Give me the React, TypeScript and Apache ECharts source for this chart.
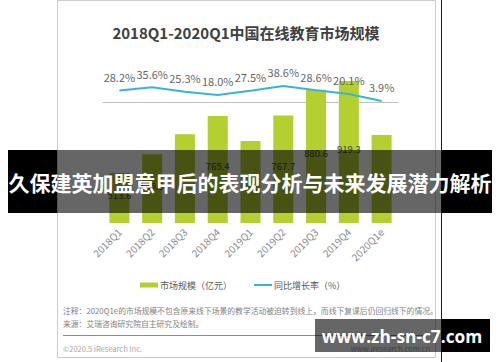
import React, { useEffect, useRef } from 'react';
import * as echarts from 'echarts';

const categories = ['2018Q1', '2018Q2', '2018Q3', '2018Q4', '2019Q1', '2019Q2', '2019Q3', '2019Q4', '2020Q1e'];
const marketSize = [513.6, 595.9, 685.0, 765.4, 655.0, 767.7, 880.6, 919.3, 681.0];
const sizeLabelShown = [true, true, false, true, false, true, true, true, false];
const growthRate = [28.2, 35.6, 25.3, 18.0, 27.5, 38.6, 28.6, 20.1, 3.9];
const seriesNames = ['市场规模（亿元）', '同比增长率（%）'];
const titleText = '2018Q1-2020Q1中国在线教育市场规模';
const noteLines = [
  '注释：2020Q1e的市场规模不包含原来线下场景的教学活动被迫转到线上，而线下复课后仍回归线下的情况。',
  '来源：艾瑞咨询研究院自主研究及绘制。',
];
const footerLeft = '©2020.5 iResearch Inc.';
const footerRight = 'www.iresearch.com.cn';
const bannerText = '久保建英加盟意甲后的表现分析与未来发展潜力解析';
const watermarkText = 'www.zh-sn-c7.com';

const FONT = '"Noto Sans CJK SC", "Noto Sans", sans-serif';
const GREEN = '#b4cf30';
const CYAN = '#36b5d8';

export default function App() {
  const ref = useRef<HTMLDivElement>(null);
  useEffect(() => {
    if (!ref.current) return;
    const chart = echarts.init(ref.current, null, { renderer: 'svg' });
    const option: any = {
      animation: false,
      backgroundColor: '#ffffff',
      textStyle: { fontFamily: FONT },
      grid: { left: 103, right: 102, top: 60, bottom: 139, containLabel: false },
      legend: {
        left: 140,
        top: 280.5,
        padding: 0,
        itemWidth: 18,
        itemHeight: 5,
        itemGap: 22,
        textStyle: { fontSize: 9, color: '#595959', fontFamily: FONT, padding: [0, 0, 0, -3] },
        data: [
          { name: seriesNames[0], icon: 'rect' },
          { name: seriesNames[1], icon: 'path://M0,0h0.01v0.01H0z M0,1.6h18v1.8H0z M0,4.99h0.01v0.01H0z' },
        ],
      },
      xAxis: {
        type: 'category',
        data: categories,
        axisLine: { lineStyle: { color: '#bfbfbf', width: 1 } },
        axisTick: { show: false },
        axisLabel: { rotate: 45, fontSize: 10, color: '#8c8c8c', margin: 7, fontFamily: FONT },
      },
      yAxis: [
        { type: 'value', min: 293, max: 1012, startValue: 293, show: false, splitLine: { show: false } },
        { type: 'value', min: -278.5, max: 98.8, show: false, splitLine: { show: false } },
      ],
      series: [
        {
          name: seriesNames[0],
          type: 'bar',
          barWidth: 20,
          clip: true,
          itemStyle: { color: GREEN },
          data: marketSize.map((v, i) => ({
            value: v,
            label: { show: sizeLabelShown[i] },
          })),
          label: {
            position: 'inside',
            offset: [0, -3],
            fontSize: 9.5,
            color: '#404040',
            fontFamily: FONT,
            formatter: (p: any) => Number(p.value).toFixed(1),
          },
        },
        {
          name: seriesNames[1],
          type: 'line',
          yAxisIndex: 1,
          symbol: 'circle',
          symbolSize: 0.1,
          showSymbol: true,
          showAllSymbol: true,
          lineStyle: { color: CYAN, width: 2 },
          itemStyle: { color: CYAN },
          data: growthRate,
          label: {
            show: true,
            position: 'top',
            distance: 8,
            fontSize: 11,
            color: '#666666',
            fontFamily: FONT,
            formatter: (p: any) => Number(p.value).toFixed(1) + '%',
          },
        },
      ],
      graphic: [
        { type: 'rect', z: 1, shape: { x: 57.5, y: 0.5, width: 378, height: 357 }, style: { fill: 'none', stroke: '#cccccc', lineWidth: 1 } },
        { type: 'line', z: 1, shape: { x1: 441.5, y1: 0, x2: 441.5, y2: 362 }, style: { stroke: '#1a1a1a', lineWidth: 1 } },
        { type: 'text', z: 5, style: { text: titleText, x: 246, y: 32, textAlign: 'center', textVerticalAlign: 'middle', fill: '#404040', fontSize: 15, fontWeight: 'bold', fontFamily: FONT } },
        { type: 'text', z: 5, style: { text: noteLines[0], x: 63, y: 310, textAlign: 'left', textVerticalAlign: 'middle', fill: '#7f7f7f', fontSize: 7.8, fontFamily: FONT } },
        { type: 'text', z: 5, style: { text: noteLines[1], x: 63, y: 323, textAlign: 'left', textVerticalAlign: 'middle', fill: '#7f7f7f', fontSize: 7.8, fontFamily: FONT } },
        { type: 'line', z: 5, shape: { x1: 63, y1: 335.5, x2: 430, y2: 335.5 }, style: { stroke: '#8c8c8c', lineWidth: 1 } },
        { type: 'text', z: 5, style: { text: footerLeft, x: 63, y: 348, textAlign: 'left', textVerticalAlign: 'middle', fill: '#a6a6a6', fontSize: 7.5, fontFamily: FONT } },
        { type: 'text', z: 5, style: { text: footerRight, x: 430, y: 348, textAlign: 'right', textVerticalAlign: 'middle', fill: '#a6a6a6', fontSize: 7.5, fontFamily: FONT } },
        // banner
        { type: 'rect', z: 100, shape: { x: 8, y: 150, width: 49, height: 63 }, style: { fill: '#000000' } },
        { type: 'rect', z: 100, shape: { x: 57, y: 150, width: 384.5, height: 63 }, style: { fill: 'rgba(0,0,0,0.6)' } },
        { type: 'rect', z: 100, shape: { x: 441.5, y: 150, width: 50.5, height: 63 }, style: { fill: '#000000' } },
        { type: 'text', z: 101, style: { text: bannerText, x: 250, y: 182, textAlign: 'center', textVerticalAlign: 'middle', fill: '#ffffff', fontSize: 21, fontWeight: 'bold', fontFamily: FONT } },
        // watermark
        { type: 'rect', z: 100, shape: { x: 315, y: 319, width: 126.5, height: 33 }, style: { fill: 'rgba(0,0,0,0.6)' } },
        { type: 'rect', z: 100, shape: { x: 441.5, y: 319, width: 48.5, height: 33 }, style: { fill: '#000000' } },
        { type: 'text', z: 101, style: { text: watermarkText, x: 402, y: 336, textAlign: 'center', textVerticalAlign: 'middle', fill: '#ffffff', fontSize: 17.3, fontWeight: 'bold', fontFamily: '"Open Sans", "Noto Sans", sans-serif' } },
      ],
    };
    chart.setOption(option);
    return () => chart.dispose();
  }, []);
  return (
    <div
      ref={ref}
      style={{ position: 'absolute', left: 0, top: 0, width: 500, height: 362, background: '#fff' }}
    />
  );
}
